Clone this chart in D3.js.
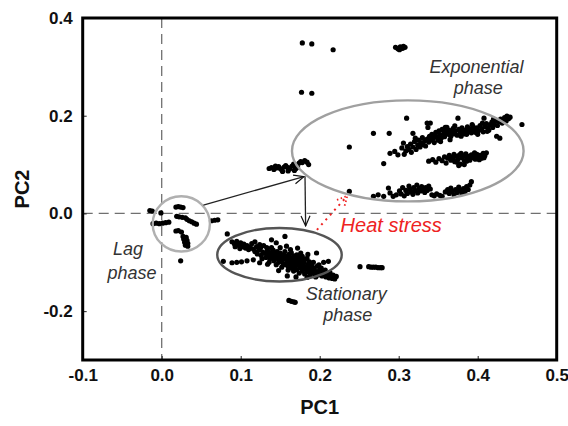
<!DOCTYPE html>
<html><head><meta charset="utf-8">
<script src="https://cdn.jsdelivr.net/npm/d3@7"></script>
<style>body{margin:0;background:#fff}svg{display:block}text{font-family:"Liberation Sans",Arial,sans-serif}</style>
</head><body><svg id="c" width="568" height="426"></svg>
<script>
// ---- data ----
const xTicks = [-0.1, 0.0, 0.1, 0.2, 0.3, 0.4, 0.5];
const yTicks = [-0.2, 0.0, 0.2, 0.4];
const xLabel = "PC1", yLabel = "PC2";

const topOutliers = [[0.178,0.349],[0.190,0.347],[0.217,0.335],[0.296,0.340],[0.299,0.337],[0.302,0.341],[0.305,0.338],[0.308,0.340],[0.301,0.335],[0.306,0.342],[0.177,0.248],[0.190,0.246]];
const lagPoints = [[-0.015,0.006],[-0.012,0.005],[-0.001,0.001],[0.018,0.013],[0.021,0.014],[0.024,0.013],[0.027,0.012],
 [-0.011,-0.021],[-0.007,-0.020],[-0.003,-0.021],[0.001,-0.020],[0.005,-0.019],[0.009,-0.018],
 [0.019,-0.006],[0.022,-0.007],[0.026,-0.008],[0.030,-0.009],[0.032,-0.012],[0.035,-0.015],[0.038,-0.017],[0.041,-0.020],[0.044,-0.022],
 [0.018,-0.036],[0.021,-0.035],[0.025,-0.038],[0.027,-0.047],[0.031,-0.049],[0.028,-0.053],[0.032,-0.055],[0.029,-0.059],[0.033,-0.061],[0.030,-0.065],[0.033,-0.067],
 [0.063,-0.015],[0.067,-0.014],[0.071,-0.013],[0.024,-0.097]];
const transitPoints = [[0.136,0.092],[0.139,0.094],[0.142,0.090],[0.145,0.093],[0.148,0.096],[0.150,0.092],[0.152,0.089],[0.155,0.095],[0.157,0.098],[0.160,0.094],[0.162,0.091],[0.165,0.097],[0.167,0.101],[0.170,0.099],[0.172,0.095],[0.174,0.103],[0.176,0.106],[0.178,0.104],[0.181,0.108],[0.184,0.105],[0.186,0.100],[0.160,0.087],[0.153,0.086],[0.168,0.088],[0.144,0.097],[0.170,0.092]];
const stationaryPoints = [[0.089,-0.058],[0.092,-0.062],[0.095,-0.057],[0.097,-0.065],[0.100,-0.060],[0.102,-0.068],[0.104,-0.063],[0.106,-0.071],[0.108,-0.066],[0.110,-0.074],[0.112,-0.069],[0.099,-0.072],[0.093,-0.068],
 [0.114,-0.062],[0.116,-0.073],[0.118,-0.078],[0.120,-0.068],[0.121,-0.083],[0.123,-0.075],[0.125,-0.071],[0.126,-0.086],[0.128,-0.079],[0.129,-0.066],[0.131,-0.082],[0.132,-0.090],[0.134,-0.076],[0.135,-0.085],[0.137,-0.093],[0.138,-0.080],[0.139,-0.070],[0.140,-0.088],[0.142,-0.097],[0.143,-0.083],[0.144,-0.092],[0.146,-0.078],[0.147,-0.086],[0.148,-0.100],[0.149,-0.094],[0.150,-0.081],[0.139,-0.054],[0.145,-0.060],
 [0.151,-0.090],[0.152,-0.098],[0.153,-0.085],[0.154,-0.104],[0.155,-0.093],[0.156,-0.047],[0.157,-0.088],[0.158,-0.101],[0.159,-0.095],[0.160,-0.108],[0.161,-0.084],[0.162,-0.098],[0.163,-0.091],[0.164,-0.104],[0.165,-0.112],[0.166,-0.095],[0.167,-0.087],[0.168,-0.101],[0.169,-0.108],[0.170,-0.093],[0.171,-0.115],[0.172,-0.099],[0.173,-0.105],[0.174,-0.090],[0.175,-0.111],[0.176,-0.102],[0.177,-0.096],[0.178,-0.118],[0.179,-0.107],[0.180,-0.100],[0.181,-0.113],[0.182,-0.094],[0.183,-0.109],[0.184,-0.120],[0.185,-0.104],[0.186,-0.115],[0.187,-0.099],[0.188,-0.111],[0.189,-0.122],[0.190,-0.107],[0.158,-0.067],[0.163,-0.074],[0.176,-0.081],
 [0.191,-0.117],[0.193,-0.112],[0.194,-0.124],[0.196,-0.119],[0.197,-0.108],[0.198,-0.126],[0.200,-0.115],[0.201,-0.122],[0.203,-0.128],[0.204,-0.118],[0.206,-0.125],[0.208,-0.130],[0.209,-0.123],[0.211,-0.127],[0.212,-0.132],[0.214,-0.129],[0.216,-0.133],[0.218,-0.131],[0.219,-0.134],[0.196,-0.081],[0.211,-0.098],[0.205,-0.100],
 [0.118,-0.058],[0.124,-0.064],[0.127,-0.093],[0.133,-0.070],[0.136,-0.100],[0.141,-0.075],[0.145,-0.105],[0.150,-0.070],[0.152,-0.110],[0.156,-0.078],[0.160,-0.116],[0.164,-0.080],[0.167,-0.118],[0.171,-0.085],[0.174,-0.122],[0.178,-0.088],[0.181,-0.124],[0.184,-0.092],[0.188,-0.127],[0.192,-0.100],[0.195,-0.130],[0.199,-0.105],[0.202,-0.112],[0.207,-0.116],[0.213,-0.121],[0.217,-0.126],[0.221,-0.129],[0.157,-0.105],[0.166,-0.110],[0.179,-0.114],
 [0.083,-0.042],[0.078,-0.098],[0.089,-0.101],[0.095,-0.100],[0.101,-0.099],[0.108,-0.097],[0.116,-0.095],[0.134,-0.104],[0.124,-0.101],[0.159,-0.128],[0.170,-0.130],[0.184,-0.131],[0.148,-0.117],[0.185,-0.084],[0.172,-0.071]];
const lowPoints = [[0.161,-0.178],[0.164,-0.180],[0.167,-0.181],[0.169,-0.182],
 [0.251,-0.109],[0.262,-0.109],[0.265,-0.110],[0.268,-0.110],[0.271,-0.110],[0.274,-0.111],[0.277,-0.111],[0.279,-0.111]];
const expUpper = [[0.289,0.123],[0.295,0.127],[0.299,0.120],[0.304,0.134],[0.306,0.144],[0.307,0.121],[0.309,0.128],[0.311,0.137],[0.313,0.131],[0.315,0.142],[0.316,0.125],[0.318,0.164],[0.318,0.136],[0.320,0.147],[0.321,0.154],[0.322,0.131],[0.324,0.140],[0.325,0.150],[0.327,0.136],[0.328,0.145],[0.330,0.155],[0.331,0.141],[0.333,0.149],[0.334,0.138],[0.336,0.185],[0.337,0.176],[0.336,0.152],[0.338,0.146],[0.339,0.158],
 [0.341,0.150],[0.342,0.162],[0.344,0.154],[0.345,0.145],[0.347,0.166],[0.348,0.157],[0.350,0.150],[0.351,0.169],[0.352,0.161],[0.354,0.155],[0.355,0.172],[0.357,0.164],[0.358,0.157],[0.360,0.168],[0.361,0.176],[0.363,0.162],[0.364,0.170],[0.366,0.158],[0.367,0.166],[0.369,0.174],[0.370,0.163],[0.372,0.169],[0.374,0.160],[0.375,0.195],[0.376,0.172],[0.378,0.166],[0.380,0.175],[0.381,0.168],[0.383,0.163],[0.385,0.171],[0.387,0.177],[0.388,0.167],[0.390,0.173],[0.392,0.165],[0.394,0.178],[0.395,0.170],[0.397,0.166],[0.399,0.175],
 [0.401,0.169],[0.403,0.180],[0.405,0.173],[0.407,0.167],[0.408,0.195],[0.409,0.178],[0.411,0.184],[0.413,0.175],[0.414,0.170],[0.416,0.182],[0.418,0.187],[0.419,0.176],[0.421,0.183],[0.423,0.190],[0.424,0.158],[0.425,0.180],[0.427,0.188],[0.428,0.154],[0.429,0.193],[0.431,0.185],[0.433,0.191],[0.434,0.196],[0.436,0.189],[0.437,0.199],[0.439,0.194],[0.441,0.197],
 [0.346,0.158],[0.353,0.147],[0.359,0.176],[0.365,0.151],[0.371,0.179],[0.379,0.158],[0.386,0.162],[0.393,0.182],[0.400,0.162],[0.406,0.185],[0.412,0.168],[0.420,0.193],
 [0.268,0.164],[0.288,0.164],[0.310,0.195],[0.340,0.185],[0.456,0.182],[0.281,0.102],[0.2375,0.136],[0.2375,0.045]];
const expMiddle = [[0.338,0.107],[0.343,0.110],[0.347,0.105],[0.351,0.112],[0.355,0.108],[0.358,0.116],[0.360,0.103],[0.362,0.113],[0.364,0.119],[0.366,0.109],[0.368,0.115],[0.370,0.121],[0.371,0.106],[0.373,0.117],[0.375,0.111],[0.377,0.120],[0.378,0.101],[0.380,0.114],[0.382,0.118],[0.383,0.108],[0.385,0.122],[0.387,0.113],[0.388,0.117],[0.390,0.109],[0.392,0.120],[0.393,0.114],[0.395,0.118],[0.397,0.111],[0.399,0.121],[0.401,0.116],[0.403,0.119],[0.405,0.113],[0.407,0.123],[0.409,0.118],[0.411,0.124],[0.376,0.098],[0.383,0.100],
 [0.369,0.110],[0.374,0.105],[0.379,0.123],[0.386,0.107],[0.391,0.115],[0.396,0.124],[0.402,0.110],[0.408,0.114]];
const expLower = [[0.268,0.035],[0.274,0.038],[0.281,0.035],[0.287,0.052],[0.289,0.042],[0.293,0.035],[0.297,0.038],[0.301,0.046],[0.303,0.040],[0.305,0.053],[0.307,0.036],[0.309,0.047],[0.311,0.041],[0.313,0.056],[0.314,0.050],[0.316,0.044],[0.318,0.039],[0.319,0.053],[0.321,0.047],[0.323,0.058],[0.324,0.042],[0.326,0.051],[0.328,0.046],[0.329,0.055],[0.331,0.049],[0.333,0.043],[0.334,0.053],[0.336,0.047],[0.338,0.056],[0.340,0.050],[0.342,0.038],[0.345,0.036],[0.348,0.040],[0.352,0.037],[0.355,0.035],[0.359,0.044],[0.362,0.049],[0.364,0.041],[0.366,0.052],[0.368,0.045],[0.370,0.038],[0.372,0.049],[0.374,0.043],[0.376,0.054],[0.378,0.047],[0.380,0.041],[0.382,0.051],[0.384,0.045],[0.386,0.055],[0.388,0.049],[0.390,0.058],[0.392,0.065]];

// annotation geometry in data units: [cx, cy, rx, ry]
const ellipses = [
  {name:"lag", c:[0.0248,-0.0214,0.0362,0.0565], color:"#b0b0b0"},
  {name:"exp", c:[0.3115,0.1280,0.1466,0.1033], color:"#a0a0a0"},
  {name:"sta", c:[0.1491,-0.0846,0.0788,0.0548], color:"#555555"}
];
const arrows = [
  {from:[0.0528,0.0172], to:[0.1800,0.0752], kind:"black"},
  {from:[0.1814,0.0762], to:[0.1822,-0.0255], kind:"black"},
  {from:[0.1965,-0.0335], to:[0.2350,0.0360], kind:"red"}
];
const notes = [
  {t:"Exponential", x:0.3985, y:0.287, cls:"n"},
  {t:"phase", x:0.4007, y:0.244, cls:"n"},
  {t:"Lag", x:-0.0425, y:-0.0855, cls:"n"},
  {t:"phase", x:-0.0375, y:-0.135, cls:"n"},
  {t:"Stationary", x:0.2335, y:-0.178, cls:"n"},
  {t:"phase", x:0.2355, y:-0.221, cls:"n"},
  {t:"Heat stress", x:0.2905, y:-0.039, cls:"r"}
];

// ---- drawing ----
const svg = d3.select("#c");
const L = 82.7, R = 556.7, T = 18, B = 360;
const x = d3.scaleLinear().domain([-0.1, 0.5]).range([L, R]);
const y = d3.scaleLinear().domain([-0.3, 0.4]).range([B, T]);

// dashed zero lines
svg.append("line").attr("x1", x(0)).attr("x2", x(0)).attr("y1", T).attr("y2", B)
  .attr("stroke", "#707070").attr("stroke-width", 1.3).attr("stroke-dasharray", "10,6");
svg.append("line").attr("x1", L).attr("x2", R).attr("y1", y(0)).attr("y2", y(0))
  .attr("stroke", "#707070").attr("stroke-width", 1.3).attr("stroke-dasharray", "10,6");

// points
const all = [].concat(topOutliers, lagPoints, transitPoints, stationaryPoints, lowPoints, expUpper, expMiddle, expLower);
svg.append("g").selectAll("circle").data(all).join("circle")
  .attr("cx", d => x(d[0])).attr("cy", d => y(d[1])).attr("r", 2.6).attr("fill", "#000");

// ellipses
svg.append("g").selectAll("ellipse").data(ellipses).join("ellipse")
  .attr("cx", d => x(d.c[0])).attr("cy", d => y(d.c[1]))
  .attr("rx", d => x(d.c[0] + d.c[2]) - x(d.c[0]))
  .attr("ry", d => y(d.c[1]) - y(d.c[1] + d.c[3]))
  .attr("fill", "none").attr("stroke", d => d.color).attr("stroke-width", 2.4);

// arrows
const defs = svg.append("defs");
defs.append("marker").attr("id", "ab").attr("viewBox", "0 0 12 12").attr("refX", 11).attr("refY", 6)
  .attr("markerWidth", 12).attr("markerHeight", 12).attr("markerUnits", "userSpaceOnUse").attr("orient", "auto")
  .append("path").attr("d", "M1,1.5 L11,6 L1,10.5").attr("fill", "none").attr("stroke", "#111").attr("stroke-width", 1.2);
defs.append("marker").attr("id", "ar").attr("viewBox", "0 0 12 12").attr("refX", 11).attr("refY", 6)
  .attr("markerWidth", 12).attr("markerHeight", 12).attr("markerUnits", "userSpaceOnUse").attr("orient", "auto")
  .append("path").attr("d", "M1,1 L11,6 L1,11").attr("fill", "none").attr("stroke", "#ee2222").attr("stroke-width", 1.8).attr("stroke-dasharray", "1.5,2.5");
svg.append("g").selectAll("line").data(arrows).join("line")
  .attr("x1", d => x(d.from[0])).attr("y1", d => y(d.from[1]))
  .attr("x2", d => x(d.to[0])).attr("y2", d => y(d.to[1]))
  .attr("stroke", d => d.kind === "red" ? "#ee2222" : "#222")
  .attr("stroke-width", d => d.kind === "red" ? 2 : 1.3)
  .attr("stroke-dasharray", d => d.kind === "red" ? "2,4.5" : null)
  .attr("marker-end", d => d.kind === "red" ? "url(#ar)" : "url(#ab)");

// notes
svg.append("g").selectAll("text").data(notes).join("text")
  .attr("x", d => x(d.x)).attr("y", d => y(d.y))
  .attr("text-anchor", "middle").attr("font-style", "italic")
  .attr("font-size", d => d.cls === "r" ? 20 : 18)
  .attr("fill", d => d.cls === "r" ? "#ee2222" : "#333")
  .text(d => d.t);

// axes
const fmt = d => d.toFixed(1);
const gx = svg.append("g").attr("transform", `translate(0,${B})`)
  .call(d3.axisBottom(x).tickValues(xTicks).tickFormat(fmt).tickSize(-4).tickSizeOuter(0).tickPadding(9));
const gy = svg.append("g").attr("transform", `translate(${L},0)`)
  .call(d3.axisLeft(y).tickValues(yTicks).tickFormat(fmt).tickSize(-4).tickSizeOuter(0).tickPadding(10));
[gx, gy].forEach(g => {
  g.select(".domain").remove();
  g.selectAll(".tick line").attr("stroke", "#222").attr("stroke-width", 1);
  g.selectAll(".tick text").attr("font-size", 17).attr("font-weight", "bold").attr("fill", "#111")
    .attr("font-family", '"Liberation Sans",Arial,sans-serif');
});

// frame
svg.append("rect").attr("x", L).attr("y", T).attr("width", R - L).attr("height", B - T)
  .attr("fill", "none").attr("stroke", "#000").attr("stroke-width", 3);

// axis titles
svg.append("text").attr("x", (L + R) / 2).attr("y", 414).attr("text-anchor", "middle")
  .attr("font-size", 20).attr("font-weight", "bold").attr("fill", "#111").text(xLabel);
svg.append("text").attr("transform", `translate(29,${(T + B) / 2}) rotate(-90)`).attr("text-anchor", "middle")
  .attr("font-size", 20).attr("font-weight", "bold").attr("fill", "#111").text(yLabel);
</script></body></html>
